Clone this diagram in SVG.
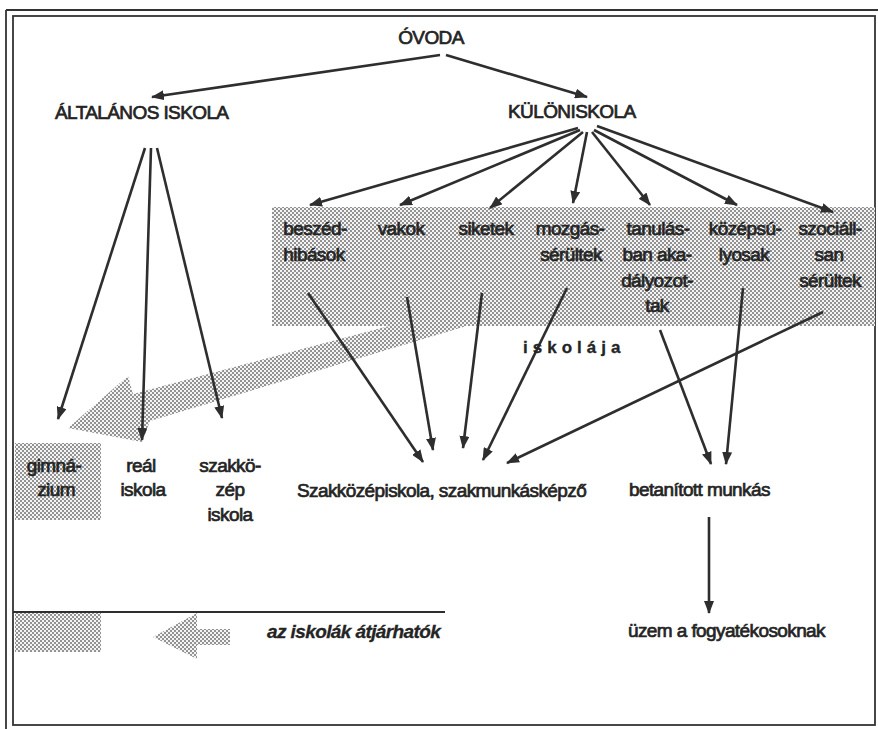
<svg xmlns="http://www.w3.org/2000/svg" width="878" height="729" viewBox="0 0 878 729">
<defs>
<pattern id="dots" width="4" height="4" patternUnits="userSpaceOnUse">
<rect width="4" height="4" fill="#f4f4f4"/>
<rect width="2" height="2" fill="#939393"/>
<rect x="2" y="2" width="2" height="2" fill="#939393"/>
</pattern>
<marker id="ah" markerUnits="userSpaceOnUse" markerWidth="13" markerHeight="10" viewBox="0 0 13 10" refX="12" refY="5" orient="auto">
<path d="M0,0 L13,5 L0,10 z" fill="#2e2e2e"/>
</marker>
</defs>
<style>
text{font-family:"Liberation Sans",Arial,sans-serif;font-size:19px;letter-spacing:-0.6px;fill:#242424;stroke:#242424;stroke-width:0.7px}
.m{text-anchor:middle}
.c line{stroke:#2e2e2e;stroke-width:2.6;marker-end:url(#ah)}
.sh{fill:url(#dots)}
.fr{fill:none;stroke:#333333;stroke-width:1.8}
</style>
<rect width="878" height="729" fill="#ffffff"/>
<g id="frame">
<line class="fr" x1="6" y1="10" x2="878" y2="10"/>
<line class="fr" x1="6" y1="10" x2="6" y2="729"/>
<rect class="fr" x="13" y="16" width="862" height="709"/>
</g>
<g id="shading">
<rect class="sh" x="272" y="207" width="603" height="119"/>
<polygon class="sh" points="68,428 128,376 133,394 404,322 480,322 150,421 142,442"/>
<rect class="sh" x="15" y="443" width="86" height="77"/>
<rect class="sh" x="15" y="613" width="86" height="39"/>
<polygon class="sh" points="153,637 197,613 197,629 230,629 230,645 197,645 197,659"/>
</g>
<line x1="13" y1="612" x2="445" y2="612" stroke="#2e2e2e" stroke-width="1.8"/>
<g class="c" id="connectors">
<line x1="440" y1="55" x2="152" y2="97"/>
<line x1="446" y1="55" x2="587" y2="97"/>
<line x1="578" y1="128" x2="310" y2="205"/>
<line x1="580" y1="130" x2="400" y2="205"/>
<line x1="583" y1="132" x2="490" y2="208"/>
<line x1="587" y1="132" x2="573" y2="203"/>
<line x1="592" y1="132" x2="650" y2="205"/>
<line x1="594" y1="130" x2="737" y2="205"/>
<line x1="597" y1="126" x2="833" y2="212"/>
<line x1="145" y1="148" x2="58" y2="419"/>
<line x1="151" y1="148" x2="142" y2="440"/>
<line x1="157" y1="148" x2="222" y2="418"/>
<line x1="308" y1="293" x2="423" y2="462"/>
<line x1="407" y1="297" x2="433" y2="450"/>
<line x1="482" y1="293" x2="463" y2="448"/>
<line x1="567" y1="288" x2="483" y2="460"/>
<line x1="823" y1="312" x2="507" y2="463"/>
<line x1="660" y1="330" x2="711" y2="464"/>
<line x1="743" y1="288" x2="726" y2="464"/>
<line x1="709" y1="517" x2="709" y2="613"/>
</g>
<g id="n-ovoda"><text class="m" x="431" y="44">ÓVODA</text></g>
<g id="n-altalanos"><text x="55" y="119">ÁLTALÁNOS ISKOLA</text></g>
<g id="n-kulon"><text x="508" y="118">KÜLÖNISKOLA</text></g>
<g id="n-beszed"><text class="m" x="315" y="235">beszéd-</text><text class="m" x="314" y="261">hibások</text></g>
<g id="n-vakok"><text class="m" x="401" y="235">vakok</text></g>
<g id="n-siketek"><text class="m" x="486" y="235">siketek</text></g>
<g id="n-mozgas"><text class="m" x="570" y="235">mozgás-</text><text class="m" x="571" y="261">sérültek</text></g>
<g id="n-tanulas"><text class="m" x="658" y="235">tanulás-</text><text class="m" x="657" y="261">ban aka-</text><text class="m" x="657" y="287">dályozot-</text><text class="m" x="657" y="312">tak</text></g>
<g id="n-kozepsu"><text class="m" x="745" y="235">középsú-</text><text class="m" x="744" y="261">lyosak</text></g>
<g id="n-szocial"><text class="m" x="830" y="235">szociáll-</text><text class="m" x="829" y="261">san</text><text class="m" x="830" y="287">sérültek</text></g>
<g id="n-iskolaja"><text x="523" y="353" style="font-weight:bold;font-size:17px;letter-spacing:5px;stroke-width:0.3px">iskolája</text></g>
<g id="n-gimn"><text class="m" x="54" y="472">gimná-</text><text class="m" x="56" y="496">zium</text></g>
<g id="n-real"><text class="m" x="141" y="472">reál</text><text class="m" x="143" y="496">iskola</text></g>
<g id="n-szakkozep"><text class="m" x="230" y="472">szakkö-</text><text class="m" x="230" y="496">zép</text><text class="m" x="230" y="521">iskola</text></g>
<g id="n-szakmunka"><text x="297" y="497">Szakközépiskola, szakmunkásképző</text></g>
<g id="n-betanitott"><text x="629" y="496">betanított munkás</text></g>
<g id="n-uzem"><text x="628" y="637">üzem a fogyatékosoknak</text></g>
<g id="n-legend"><text x="267" y="638" style="font-style:italic;font-weight:bold;stroke-width:0.3px">az iskolák átjárhatók</text></g>
</svg>
